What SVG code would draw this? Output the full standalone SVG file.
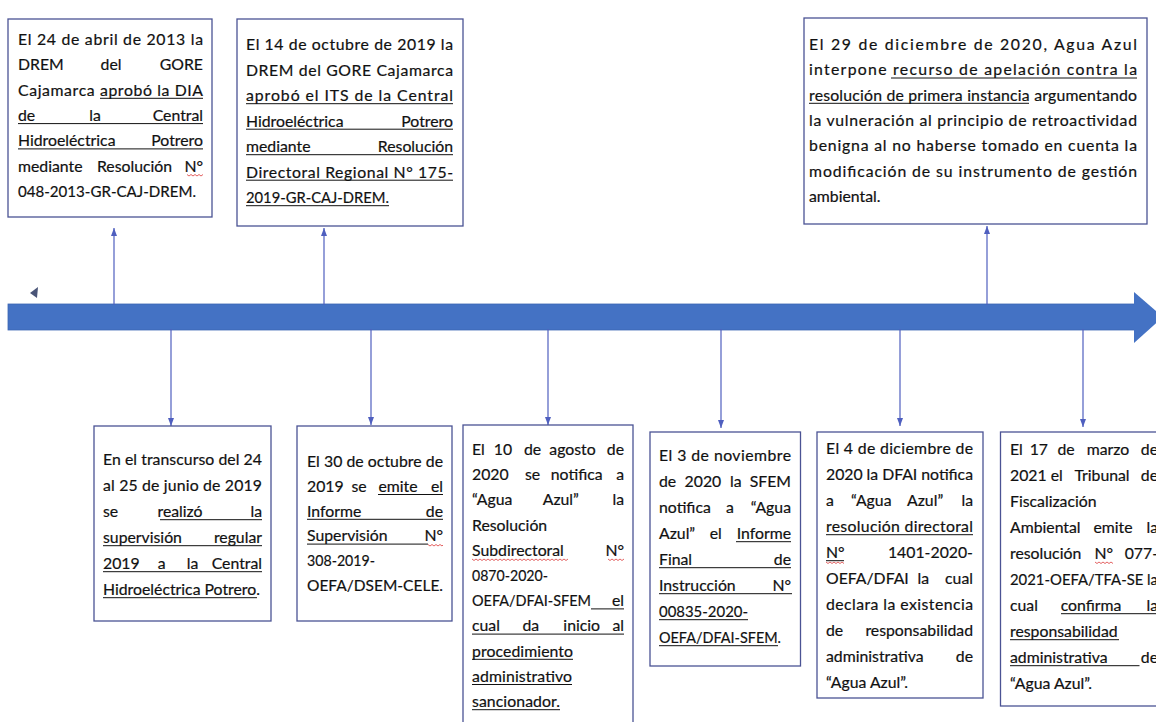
<svg xmlns="http://www.w3.org/2000/svg" width="1156" height="722" viewBox="0 0 1156 722">
<style>
.t{font-family:Lato,"Liberation Sans",sans-serif;font-size:15.8px;fill:#111;stroke:#111;stroke-width:0.2}
.e{text-anchor:end}
.m{text-anchor:middle}
.box{fill:#fff;stroke:#4b5394;stroke-width:1.3}
.ul{stroke:#111;stroke-width:1}
.sq{fill:none;stroke:#e05050;stroke-width:0.9}
.c{stroke:#4f5fbf;stroke-width:1.2;fill:none;marker-end:url(#ah)}
</style>
<defs>
<marker id="ah" viewBox="0 0 8 6" refX="8" refY="3" markerWidth="8" markerHeight="6" orient="auto" markerUnits="userSpaceOnUse">
<path d="M0,0 L8,3 L0,6 z" fill="#4f5fbf"/>
</marker>
</defs>
<rect width="1156" height="722" fill="#fff"/>

<g id="timeline">
<rect x="8" y="304" width="1128" height="26" fill="#4472c4" stroke="#3d66b3" stroke-width="0.8"/>
<polygon points="1134,292 1163,317 1134,343" fill="#4472c4"/>
<polygon points="30,293 38,287 37,298" fill="#4a5578"/>
</g>

<g id="connectors">
<line class="c" x1="114" y1="305" x2="114" y2="228"/>
<line class="c" x1="324" y1="305" x2="324" y2="228"/>
<line class="c" x1="987" y1="305" x2="987" y2="226"/>
<line class="c" x1="171" y1="329" x2="171" y2="426"/>
<line class="c" x1="371" y1="329" x2="371" y2="425"/>
<line class="c" x1="548" y1="329" x2="548" y2="425"/>
<line class="c" x1="721" y1="329" x2="721" y2="428"/>
<line class="c" x1="900" y1="329" x2="900" y2="426"/>
<line class="c" x1="1083" y1="329" x2="1083" y2="427"/>
</g>

<g id="n1">
<rect class="box" x="8" y="19" width="204" height="198"/>
<text class="t" x="18" y="45" textLength="185" lengthAdjust="spacing">El 24 de abril de 2013 la</text>
<text class="t" x="18" y="70.3">DREM</text><text class="t m" x="111" y="70.3">del</text><text class="t e" x="203" y="70.3">GORE</text>
<text class="t" x="18" y="95.6" textLength="185" lengthAdjust="spacing">Cajamarca aprobó la DIA</text>
<text class="t" x="18" y="120.9">de</text><text class="t m" x="95" y="120.9">la</text><text class="t e" x="203" y="120.9">Central</text>
<text class="t" x="18" y="146.2">Hidroeléctrica</text><text class="t e" x="203" y="146.2">Potrero</text>
<text class="t" x="18" y="171.5">mediante</text><text class="t m" x="134.5" y="171.5">Resolución</text><text class="t e" x="203" y="171.5">N°</text>
<text class="t" x="18" y="196.8" textLength="178" lengthAdjust="spacingAndGlyphs">048-2013-GR-CAJ-DREM.</text>
<line class="ul" x1="100" y1="98.3" x2="203" y2="98.3"/>
<line class="ul" x1="18" y1="123.6" x2="203" y2="123.6"/>
<line class="ul" x1="18" y1="148.9" x2="203" y2="148.9"/>
<path class="sq" d="M187,174.5 l2,1.5 l2,-1.5 l2,1.5 l2,-1.5 l2,1.5 l2,-1.5 l2,1.5 l2,-1.5"/>
</g>

<g id="n2">
<rect class="box" x="237" y="19" width="226" height="207"/>
<text class="t" x="246" y="50" textLength="207" lengthAdjust="spacing">El 14 de octubre de 2019 la</text>
<text class="t" x="246" y="75.5" textLength="207" lengthAdjust="spacing">DREM del GORE Cajamarca</text>
<text class="t" x="246" y="101" textLength="207" lengthAdjust="spacing">aprobó el ITS de la Central</text>
<text class="t" x="246" y="126.5">Hidroeléctrica</text><text class="t e" x="453" y="126.5">Potrero</text>
<text class="t" x="246" y="152">mediante</text><text class="t e" x="453" y="152">Resolución</text>
<text class="t" x="246" y="177.5" textLength="207" lengthAdjust="spacing">Directoral Regional N° 175-</text>
<text class="t" x="246" y="203" textLength="143" lengthAdjust="spacingAndGlyphs">2019-GR-CAJ-DREM.</text>
<line class="ul" x1="246" y1="103.7" x2="453" y2="103.7"/>
<line class="ul" x1="246" y1="129.2" x2="453" y2="129.2"/>
<line class="ul" x1="246" y1="154.7" x2="453" y2="154.7"/>
<line class="ul" x1="246" y1="180.2" x2="453" y2="180.2"/>
<line class="ul" x1="246" y1="205.7" x2="389" y2="205.7"/>
</g>

<g id="n3">
<rect class="box" x="804" y="18" width="343" height="206"/>
<text class="t" x="809" y="50" textLength="328" lengthAdjust="spacing">El 29 de diciembre de 2020, Agua Azul</text>
<text class="t" x="809" y="75.3" textLength="328" lengthAdjust="spacing">interpone recurso de apelación contra la</text>
<text class="t" x="809" y="100.6" textLength="328" lengthAdjust="spacing">resolución de primera instancia argumentando</text>
<text class="t" x="809" y="125.9" textLength="328" lengthAdjust="spacing">la vulneración al principio de retroactividad</text>
<text class="t" x="809" y="151.2" textLength="328" lengthAdjust="spacing">benigna al no haberse tomado en cuenta la</text>
<text class="t" x="809" y="176.5" textLength="328" lengthAdjust="spacing">modificación de su instrumento de gestión</text>
<text class="t" x="809" y="201.8">ambiental.</text>
<line class="ul" x1="891" y1="78" x2="1137" y2="78"/>
<line class="ul" x1="809" y1="103.3" x2="1029" y2="103.3"/>
</g>

<g id="n4">
<rect class="box" x="94" y="426" width="177" height="195"/>
<text class="t" x="103" y="465" textLength="159" lengthAdjust="spacing">En el transcurso del 24</text>
<text class="t" x="103" y="491" textLength="159" lengthAdjust="spacing">al 25 de junio de 2019</text>
<text class="t" x="103" y="517">se</text><text class="t m" x="180" y="517">realizó</text><text class="t e" x="262" y="517">la</text>
<text class="t" x="103" y="543">supervisión</text><text class="t e" x="262" y="543">regular</text>
<text class="t" x="103" y="569">2019</text><text class="t m" x="161.7" y="569">a</text><text class="t m" x="192.5" y="569">la</text><text class="t e" x="262" y="569">Central</text>
<text class="t" x="103" y="595" textLength="157" lengthAdjust="spacing">Hidroeléctrica Potrero.</text>
<line class="ul" x1="160" y1="519.7" x2="262" y2="519.7"/>
<line class="ul" x1="103" y1="545.7" x2="262" y2="545.7"/>
<line class="ul" x1="103" y1="571.7" x2="262" y2="571.7"/>
<line class="ul" x1="103" y1="597.7" x2="257" y2="597.7"/>
</g>

<g id="n5">
<rect class="box" x="297" y="426" width="155" height="195"/>
<text class="t" x="307" y="467" textLength="136" lengthAdjust="spacing">El 30 de octubre de</text>
<text class="t" x="307" y="491.8">2019</text><text class="t m" x="359" y="491.8">se</text><text class="t m" x="398" y="491.8">emite</text><text class="t e" x="443" y="491.8">el</text>
<text class="t" x="307" y="516.6">Informe</text><text class="t e" x="443" y="516.6">de</text>
<text class="t" x="307" y="541.4">Supervisión</text><text class="t e" x="443" y="541.4">N°</text>
<text class="t" x="307" y="566.2" textLength="68" lengthAdjust="spacingAndGlyphs">308-2019-</text>
<text class="t" x="307" y="591" textLength="136" lengthAdjust="spacingAndGlyphs">OEFA/DSEM-CELE.</text>
<line class="ul" x1="378" y1="494.5" x2="443" y2="494.5"/>
<line class="ul" x1="307" y1="519.3" x2="443" y2="519.3"/>
<line class="ul" x1="307" y1="544.1" x2="428" y2="544.1"/>
<path class="sq" d="M428,544.5 l2,1.5 l2,-1.5 l2,1.5 l2,-1.5 l2,1.5 l2,-1.5 l2,1.5 l1,-1"/>
</g>

<g id="n6">
<rect class="box" x="463" y="425" width="170" height="305"/>
<text class="t" x="472" y="455">El</text><text class="t m" x="503" y="455">10</text><text class="t m" x="532.5" y="455">de</text><text class="t m" x="572.5" y="455">agosto</text><text class="t e" x="624" y="455">de</text>
<text class="t" x="472" y="480.2">2020</text><text class="t m" x="532.5" y="480.2">se</text><text class="t m" x="576.7" y="480.2">notifica</text><text class="t e" x="624" y="480.2">a</text>
<text class="t" x="472" y="505.4">“Agua</text><text class="t m" x="560.8" y="505.4">Azul”</text><text class="t e" x="624" y="505.4">la</text>
<text class="t" x="472" y="530.6">Resolución</text>
<text class="t" x="472" y="555.8">Subdirectoral</text><text class="t e" x="624" y="555.8">N°</text>
<text class="t" x="472" y="581" textLength="76" lengthAdjust="spacingAndGlyphs">0870-2020-</text>
<text class="t" x="472" y="606.2" textLength="119" lengthAdjust="spacingAndGlyphs">OEFA/DFAI-SFEM</text><text class="t e" x="624" y="606.2">el</text>
<text class="t" x="472" y="631.4">cual</text><text class="t m" x="530.8" y="631.4">da</text><text class="t m" x="581.7" y="631.4">inicio</text><text class="t e" x="624" y="631.4">al</text>
<text class="t" x="472" y="656.6" textLength="101" lengthAdjust="spacing">procedimiento</text>
<text class="t" x="472" y="681.8" textLength="100" lengthAdjust="spacing">administrativo</text>
<text class="t" x="472" y="707" textLength="88" lengthAdjust="spacing">sancionador.</text>
<path class="sq" d="M472,559 l2,1.5 l2,-1.5 l2,1.5 l2,-1.5 l2,1.5 l2,-1.5 l2,1.5 l2,-1.5 l2,1.5 l2,-1.5 l2,1.5 l2,-1.5 l2,1.5 l2,-1.5 l2,1.5 l2,-1.5 l2,1.5 l2,-1.5 l2,1.5 l2,-1.5 l2,1.5 l2,-1.5 l2,1.5 l2,-1.5 l2,1.5 l2,-1.5 l2,1.5 l2,-1.5 l2,1.5 l2,-1.5 l2,1.5 l2,-1.5 l2,1.5 l2,-1.5 l2,1.5 l2,-1.5 l2,1.5 l2,-1.5 l2,1.5 l2,-1.5 l2,1.5 l2,-1.5 l2,1.5 l2,-1.5 l2,1.5 l2,-1.5 l2,1.5 l2,-1.5"/>
<path class="sq" d="M608,559 l2,1.5 l2,-1.5 l2,1.5 l2,-1.5 l2,1.5 l2,-1.5 l2,1.5 l2,-1.5"/>
<line class="ul" x1="591" y1="608.9" x2="624" y2="608.9"/>
<line class="ul" x1="472" y1="634.1" x2="624" y2="634.1"/>
<line class="ul" x1="472" y1="659.3" x2="573" y2="659.3"/>
<line class="ul" x1="472" y1="684.5" x2="572" y2="684.5"/>
<line class="ul" x1="472" y1="709.7" x2="560" y2="709.7"/>
</g>

<g id="n7">
<rect class="box" x="650" y="432" width="150.5" height="234"/>
<text class="t" x="659" y="461" textLength="132" lengthAdjust="spacing">El 3 de noviembre</text>
<text class="t" x="659" y="487">de</text><text class="t m" x="702.9" y="487">2020</text><text class="t m" x="735.9" y="487">la</text><text class="t e" x="791" y="487">SFEM</text>
<text class="t" x="659" y="513">notifica</text><text class="t m" x="730" y="513">a</text><text class="t e" x="791" y="513">“Agua</text>
<text class="t" x="659" y="539">Azul”</text><text class="t m" x="715.7" y="539">el</text><text class="t e" x="791" y="539">Informe</text>
<text class="t" x="659" y="565">Final</text><text class="t e" x="791" y="565">de</text>
<text class="t" x="659" y="591">Instrucción</text><text class="t e" x="791" y="591">N°</text>
<text class="t" x="659" y="617" textLength="89" lengthAdjust="spacingAndGlyphs">00835-2020-</text>
<text class="t" x="659" y="643" textLength="122" lengthAdjust="spacingAndGlyphs">OEFA/DFAI-SFEM.</text>
<line class="ul" x1="736" y1="541.7" x2="791" y2="541.7"/>
<line class="ul" x1="659" y1="567.7" x2="791" y2="567.7"/>
<line class="ul" x1="659" y1="593.7" x2="792" y2="593.7"/>
<line class="ul" x1="659" y1="619.7" x2="748" y2="619.7"/>
<line class="ul" x1="659" y1="645.7" x2="778" y2="645.7"/>
</g>

<g id="n8">
<rect class="box" x="817" y="432" width="166" height="266"/>
<text class="t" x="826" y="454" textLength="147" lengthAdjust="spacing">El 4 de diciembre de</text>
<text class="t" x="826" y="480" textLength="147" lengthAdjust="spacing">2020 la DFAI notifica</text>
<text class="t" x="826" y="506">a</text><text class="t m" x="871.3" y="506">“Agua</text><text class="t m" x="925.1" y="506">Azul”</text><text class="t e" x="973" y="506">la</text>
<text class="t" x="826" y="532" textLength="147" lengthAdjust="spacing">resolución directoral</text>
<text class="t" x="826" y="558">N°</text><text class="t e" x="973" y="558">1401-2020-</text>
<text class="t" x="826" y="584">OEFA/DFAI</text><text class="t m" x="923.4" y="584">la</text><text class="t e" x="973" y="584">cual</text>
<text class="t" x="826" y="610" textLength="147" lengthAdjust="spacing">declara la existencia</text>
<text class="t" x="826" y="636">de</text><text class="t e" x="973" y="636">responsabilidad</text>
<text class="t" x="826" y="662">administrativa</text><text class="t e" x="973" y="662">de</text>
<text class="t" x="826" y="688">“Agua Azul”.</text>
<line class="ul" x1="826" y1="534.7" x2="973" y2="534.7"/>
<line class="ul" x1="826" y1="560.7" x2="844" y2="560.7"/>
<path class="sq" d="M826,562 l2,1.5 l2,-1.5 l2,1.5 l2,-1.5 l2,1.5 l2,-1.5 l2,1.5 l2,-1.5 l2,1.5"/>
</g>

<g id="n9">
<rect class="box" x="1000.5" y="432" width="172" height="274"/>
<text class="t" x="1010" y="455">El</text><text class="t m" x="1038.8" y="455">17</text><text class="t m" x="1066" y="455">de</text><text class="t m" x="1108" y="455">marzo</text><text class="t e" x="1158" y="455">de</text>
<text class="t" x="1010" y="481">2021</text><text class="t m" x="1056.8" y="481">el</text><text class="t m" x="1102" y="481">Tribunal</text><text class="t e" x="1158" y="481">de</text>
<text class="t" x="1010" y="507">Fiscalización</text>
<text class="t" x="1010" y="533">Ambiental</text><text class="t m" x="1113" y="533">emite</text><text class="t e" x="1158" y="533">la</text>
<text class="t" x="1010" y="559">resolución</text><text class="t m" x="1103.8" y="559">N°</text><text class="t e" x="1158" y="559">077-</text>
<text class="t" x="1010" y="585" textLength="148" lengthAdjust="spacingAndGlyphs">2021-OEFA/TFA-SE la</text>
<text class="t" x="1010" y="611">cual</text><text class="t m" x="1091" y="611">confirma</text><text class="t e" x="1158" y="611">la</text>
<text class="t" x="1010" y="637">responsabilidad</text>
<text class="t" x="1010" y="663">administrativa</text><text class="t e" x="1158" y="663">de</text>
<text class="t" x="1010" y="689">“Agua Azul”.</text>
<path class="sq" d="M1095,562 l2,1.5 l2,-1.5 l2,1.5 l2,-1.5 l2,1.5 l2,-1.5 l2,1.5 l2,-1.5 l2,1.5"/>
<line class="ul" x1="1061" y1="613.7" x2="1158" y2="613.7"/>
<line class="ul" x1="1010" y1="639.7" x2="1119" y2="639.7"/>
<line class="ul" x1="1010" y1="665.7" x2="1139.5" y2="665.7"/>
</g>
</svg>
